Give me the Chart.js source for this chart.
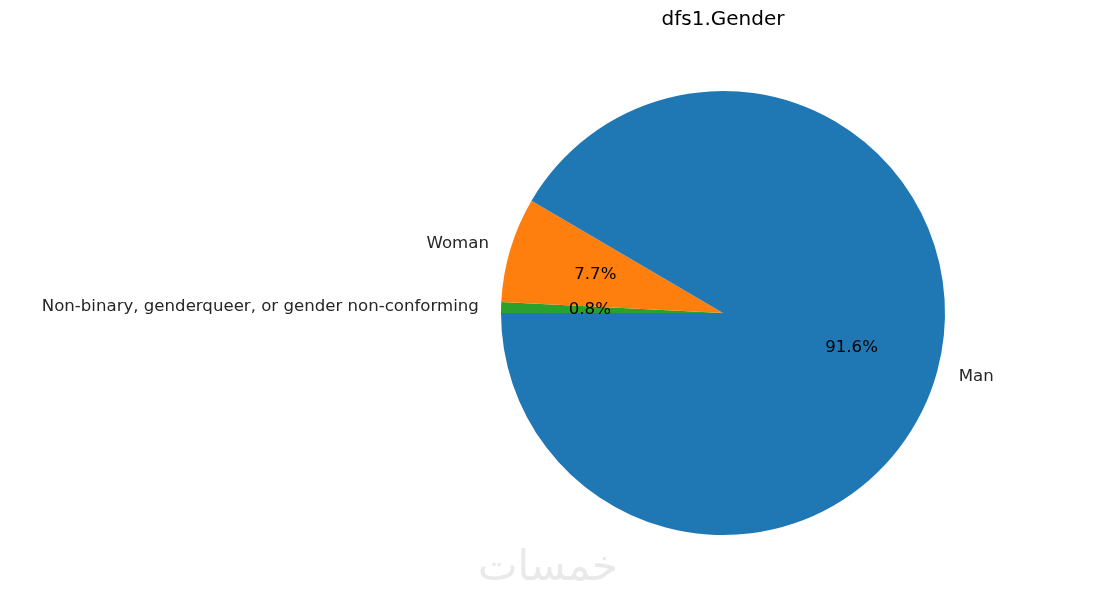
<!DOCTYPE html>
<html>
<head>
<meta charset="utf-8">
<script src="https://cdn.jsdelivr.net/npm/chart.js@4/dist/chart.umd.min.js"></script>
<style>
html,body{margin:0;padding:0;background:#fff;}
#wrap{width:1097px;height:595px;position:relative;}
</style>
</head>
<body>
<div id="wrap"><canvas id="c" width="1097" height="595"></canvas></div>
<script>
// Data (drawn clockwise from the left, i.e. matplotlib counter-clockwise order reversed)
const categories = ["Non-binary, genderqueer, or gender non-conforming", "Woman", "Man"];
const values = [0.78, 7.66, 91.56];
const colors = ["#2ca02c", "#ff7f0e", "#1f77b4"];
const titleText = "dfs1.Gender";
const watermark = "خمسات";

const FONT = "'DejaVu Sans', sans-serif";

const labelPlugin = {
  id: 'pieLabels',
  afterDatasetsDraw(chart) {
    const ctx = chart.ctx;
    const meta = chart.getDatasetMeta(0);
    const total = values.reduce((a, b) => a + b, 0);
    ctx.save();
    ctx.textBaseline = 'middle';
    meta.data.forEach((arc, i) => {
      const p = arc.getProps(['x', 'y', 'startAngle', 'endAngle', 'outerRadius'], true);
      const mid = (p.startAngle + p.endAngle) / 2;
      const cx = Math.cos(mid), cy = Math.sin(mid);
      // outer label
      ctx.font = "16.6px " + FONT;
      ctx.fillStyle = "#262626";
      ctx.textAlign = cx >= 0 ? 'left' : 'right';
      ctx.fillText(categories[i], p.x + cx * p.outerRadius * 1.1, p.y + cy * p.outerRadius * 1.1);
      // percent label
      ctx.textAlign = 'center';
      ctx.fillStyle = "#000";
      const pct = (values[i] / total * 100).toFixed(1) + "%";
      ctx.fillText(pct, p.x + cx * p.outerRadius * 0.6, p.y + cy * p.outerRadius * 0.6);
    });
    // title
    ctx.font = "20px " + FONT;
    ctx.fillStyle = "#000";
    ctx.textAlign = 'center';
    ctx.fillText(titleText, 723, 20);
    // watermark
    ctx.font = "42px " + FONT;
    ctx.fillStyle = "#e9e9e9";
    ctx.fillText(watermark, 548, 569);
    ctx.restore();
  }
};

new Chart(document.getElementById('c'), {
  type: 'pie',
  data: {
    labels: categories,
    datasets: [{
      data: values,
      backgroundColor: colors,
      borderWidth: 0
    }]
  },
  options: {
    responsive: false,
    animation: false,
    rotation: -90,
    layout: { padding: { top: 91, bottom: 60, left: 501, right: 152 } },
    plugins: {
      legend: { display: false },
      tooltip: { enabled: false },
      title: { display: false }
    }
  },
  plugins: [labelPlugin]
});
</script>
</body>
</html>
